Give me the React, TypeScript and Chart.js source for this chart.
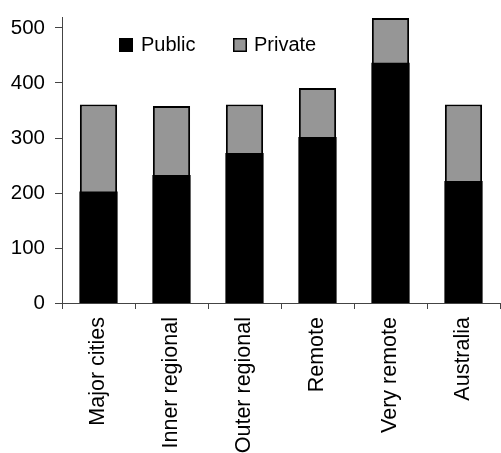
import React, { useEffect, useRef } from "react";
import { Chart, registerables } from "chart.js";

Chart.register(...registerables);

const categories = ["Major cities", "Inner regional", "Outer regional", "Remote", "Very remote", "Australia"];
const publicValues = [202, 232, 272, 301, 436, 221];
const privateValues = [159, 126, 89, 90, 82, 140];
const yTicks = [0, 100, 200, 300, 400, 500];

const FONT = "'Liberation Sans', Arial, sans-serif";
const AXIS = "#444444";

const legendPlugin = {
  id: "innerLegend",
  afterDraw(chart: any) {
    const ctx = chart.ctx;
    const items = [
      { x: 119, textX: 141, ds: chart.data.datasets[0] },
      { x: 233, textX: 254, ds: chart.data.datasets[1] },
    ];
    ctx.save();
    ctx.font = `20px ${FONT}`;
    ctx.textBaseline = "middle";
    ctx.textAlign = "left";
    for (const it of items) {
      ctx.fillStyle = it.ds.backgroundColor;
      ctx.fillRect(it.x, 38, 14, 14);
      ctx.strokeStyle = "#000";
      ctx.lineWidth = 1.5;
      ctx.strokeRect(it.x + 0.75, 38.75, 12.5, 12.5);
      ctx.fillStyle = "#000";
      ctx.fillText(it.ds.label, it.textX, 45);
    }
    ctx.restore();
  },
};

export default function App() {
  const ref = useRef<HTMLCanvasElement>(null);
  useEffect(() => {
    document.body.style.margin = "0";
    const chart = new Chart(ref.current!, {
      type: "bar",
      data: {
        labels: categories,
        datasets: [
          {
            label: "Public",
            data: publicValues,
            backgroundColor: "#000000",
            borderColor: "#000000",
            borderWidth: 0,
            inflateAmount: 0.5,
            barPercentage: 0.51,
            categoryPercentage: 1,
          },
          {
            label: "Private",
            data: privateValues,
            backgroundColor: "#969696",
            borderColor: "#000000",
            borderWidth: 2,
            borderSkipped: "start",
            barPercentage: 0.51,
            categoryPercentage: 1,
          },
        ],
      },
      options: {
        animation: false,
        responsive: true,
        maintainAspectRatio: false,
        layout: { padding: { top: 17, right: 1, left: 0, bottom: 0 } },
        plugins: { legend: { display: false }, tooltip: { enabled: false } },
        scales: {
          x: {
            stacked: true,
            border: { display: true, color: AXIS, width: 1 },
            grid: { offset: true, drawOnChartArea: false, drawTicks: true, tickLength: 6, color: AXIS },
            ticks: {
              color: "#000",
              font: { family: FONT, size: 21.5 },
              minRotation: 90,
              maxRotation: 90,
              padding: 8,
              autoSkip: false,
            },
            afterFit: (s: any) => {
              s.height = 150;
              s.paddingLeft = 0;
              s.paddingRight = 0;
            },
          },
          y: {
            stacked: true,
            min: 0,
            max: 520,
            border: { display: true, color: AXIS, width: 1 },
            grid: { drawOnChartArea: false, drawTicks: true, tickLength: 7, color: AXIS },
            ticks: {
              color: "#000",
              font: { family: FONT, size: 20.5 },
              stepSize: 100,
              padding: 10,
            },
            afterBuildTicks: (axis: any) => {
              axis.ticks = yTicks.map((v) => ({ value: v }));
            },
            afterFit: (s: any) => {
              s.width = 62;
              s.paddingTop = 0;
              s.paddingBottom = 0;
            },
          },
        },
      },
      plugins: [legendPlugin],
    });
    return () => chart.destroy();
  }, []);
  return (
    <div style={{ position: "relative", width: 501, height: 453 }}>
      <canvas ref={ref} />
    </div>
  );
}
